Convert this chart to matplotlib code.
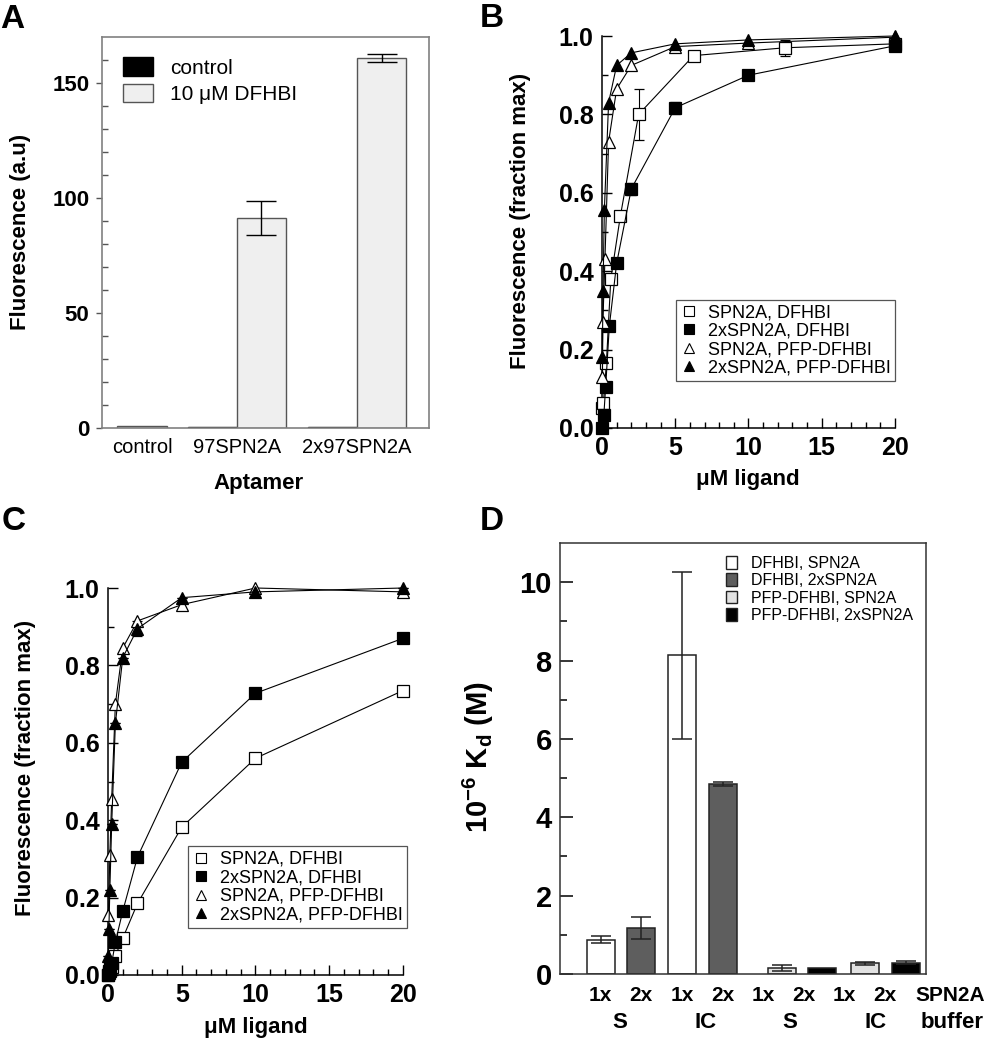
import matplotlib
matplotlib.use("Agg")
import matplotlib.pyplot as plt
from matplotlib.lines import Line2D
from matplotlib.patches import Patch

plt.rcParams['font.family'] = ['Liberation Sans', 'DejaVu Sans']
plt.rcParams['mathtext.fontset'] = 'custom'
plt.rcParams['mathtext.bf'] = 'Liberation Sans:bold'
plt.rcParams['mathtext.rm'] = 'Liberation Sans:bold'

# ---- panel A data ----
a_categories = ['control', '97SPN2A', '2x97SPN2A']
a_control = [0.0, 0.3, 0.3]
a_dfhbi = [1.0, 91.3, 161.0]
a_dfhbi_err = [0.0, 7.5, 1.7]

# ---- panel B data (x in uM, y fraction max) ----
b_x_spn = [0.0, 0.1, 0.3, 0.6, 1.25, 2.5, 6.25, 12.5, 20]
b_y_spn = [0.05, 0.065, 0.165, 0.38, 0.54, 0.80, 0.95, 0.97, 0.98]
b_e_spn = [0, 0, 0, 0, 0, 0.065, 0, 0.02, 0]
b_x_2x = [0, 0.125, 0.25, 0.5, 1, 2, 5, 10, 20]
b_y_2x = [0.0, 0.033, 0.105, 0.26, 0.42, 0.61, 0.817, 0.90, 0.975]
b_e_2x = [0, 0, 0, 0, 0, 0.015, 0.015, 0, 0]
b_x_pfp = [0.03, 0.06, 0.2, 0.45, 1, 2, 5, 10, 20]
b_y_pfp = [0.13, 0.27, 0.43, 0.73, 0.865, 0.925, 0.973, 0.982, 0.997]
b_x_2xpfp = [0.02, 0.07, 0.16, 0.45, 1, 2, 5, 10, 20]
b_y_2xpfp = [0.18, 0.35, 0.555, 0.83, 0.925, 0.957, 0.98, 0.99, 1.0]

# ---- panel C data ----
c_x = [0, 0.06, 0.125, 0.25, 0.5, 1, 2, 5, 10, 20]
c_y_spn = [0.0, 0.005, 0.01, 0.02, 0.05, 0.095, 0.185, 0.382, 0.56, 0.735]
c_y_2x = [0.0, 0.01, 0.02, 0.03, 0.085, 0.165, 0.305, 0.55, 0.728, 0.87]
c_x_pfp = [0.03, 0.125, 0.25, 0.5, 1, 2, 5, 10, 20]
c_y_pfp = [0.155, 0.31, 0.455, 0.70, 0.845, 0.915, 0.957, 1.0, 0.99]
c_x_2xpfp = [0.03, 0.06, 0.125, 0.25, 0.5, 1, 2, 5, 10, 20]
c_y_2xpfp = [0.05, 0.12, 0.22, 0.39, 0.65, 0.82, 0.895, 0.975, 0.99, 1.0]
c_e_2xpfp = [0, 0, 0, 0, 0, 0, 0.02, 0, 0, 0]

# ---- panel D data ----
d_vals = [0.88, 1.17, 8.13, 4.85, 0.15, 0.15, 0.27, 0.29]
d_err = [0.09, 0.285, 2.13, 0.06, 0.07, 0.0, 0.03, 0.04]
d_colors = ['white', '#5e5e5e', 'white', '#5e5e5e', '#e2e2e2', 'black', '#e2e2e2', 'black']
d_ticklabels = ['1x', '2x', '1x', '2x', '1x', '2x', '1x', '2x']
d_groups = ['S', 'IC', 'S', 'IC']
d_legend = ['DFHBI, SPN2A', 'DFHBI, 2xSPN2A', 'PFP-DFHBI, SPN2A', 'PFP-DFHBI, 2xSPN2A']
d_legend_colors = ['white', '#5e5e5e', '#e2e2e2', 'black']

series_labels = ['SPN2A, DFHBI', '2xSPN2A, DFHBI', 'SPN2A, PFP-DFHBI', '2xSPN2A, PFP-DFHBI']

W, H = 987, 1050
fig = plt.figure(figsize=(W / 100, H / 100), dpi=100)


def add_ax(l, t, r, b):
    return fig.add_axes([l / W, 1 - b / H, (r - l) / W, (b - t) / H])


def ftext(x, y, s, **kw):
    fig.text(x / W, 1 - y / H, s, **kw)


# ================= A =================
ax = add_ax(102, 37, 429, 428)
cat_pos = [0.0, 0.79, 1.79]
w = 0.41
for i, p in enumerate(cat_pos):
    if i == 0:
        ax.bar(p, a_dfhbi[i], w, color='#efefef', edgecolor='#555555', lw=1)
    else:
        ax.bar(p - w, a_control[i], w, align='edge', color='black', edgecolor='black', lw=1)
        ax.bar(p, a_dfhbi[i], w, align='edge', color='#efefef', edgecolor='#555555', lw=1)
        ax.errorbar(p + w / 2, a_dfhbi[i], yerr=a_dfhbi_err[i], color='black',
                    capsize=11, elinewidth=1, capthick=1)
ax.set_xlim(-0.333, 2.39)
ax.set_ylim(0, 170)
ax.set_xticks(cat_pos)
ax.set_xticklabels(a_categories, fontsize=14.5)
ax.tick_params(axis='x', length=0, pad=7)
ax.set_yticks([0, 50, 100, 150])
ax.set_yticks(range(0, 170, 10), minor=True)
ax.tick_params(axis='y', which='major', direction='out', length=4, width=1, pad=5,
               labelsize=16, color='#555555')
ax.tick_params(axis='y', which='minor', direction='in', length=4, width=1, color='#555555')
for lab in ax.get_yticklabels():
    lab.set_fontweight('bold')
for s in ax.spines.values():
    s.set_color('#808080')
    s.set_linewidth(1.2)
ax.legend(handles=[Patch(facecolor='black', edgecolor='black'),
                   Patch(facecolor='#efefef', edgecolor='#555555')],
          labels=['control', '10 \u03bcM DFHBI'], loc='upper left', frameon=False,
          fontsize=15, handlelength=1.45, handleheight=1.0, handletextpad=0.8,
          labelspacing=0.3, borderaxespad=0, bbox_to_anchor=(0.039, 0.97))
ftext(21, 232, 'Fluorescence (a.u)', rotation=90, ha='center', va='center',
      fontsize=16, fontweight='bold')
ftext(259, 484, 'Aptamer', ha='center', va='center', fontsize=16, fontweight='bold')


def curve_axes(ax, data, legend_anchor):
    styles = [('s', 'white'), ('s', 'black'), ('^', 'white'), ('^', 'black')]
    for (x, y, e), (m, fc) in zip(data, styles):
        ax.errorbar(x, y, yerr=e if e is not None else None, color='black', lw=0.8,
                    marker=m, markersize=9 if m == 's' else 8.5, markerfacecolor=fc,
                    markeredgecolor='black', markeredgewidth=0.9, capsize=3.5,
                    elinewidth=0.8, clip_on=False, zorder=3)
    ax.set_xlim(0, 20)
    ax.set_ylim(0, 1.0)
    ax.set_xticks([0, 5, 10, 15, 20])
    ax.set_xticks(range(0, 21), minor=True)
    ax.set_yticks([0, 0.2, 0.4, 0.6, 0.8, 1.0])
    ax.set_yticklabels(['0.0', '0.2', '0.4', '0.6', '0.8', '1.0'])
    ax.set_yticks([0.1, 0.3, 0.5, 0.7, 0.9], minor=True)
    ax.tick_params(which='major', direction='in', length=7, width=1, labelsize=18, pad=6)
    ax.tick_params(which='minor', direction='in', length=4, width=1)
    for lab in ax.get_xticklabels() + ax.get_yticklabels():
        lab.set_fontweight('bold')
    ax.spines['top'].set_visible(False)
    ax.spines['right'].set_visible(False)
    for s in ('left', 'bottom'):
        ax.spines[s].set_linewidth(1.1)
    handles = [Line2D([], [], ls='none', marker=m, markersize=7, markerfacecolor=fc,
                      markeredgecolor='black', markeredgewidth=0.8) for m, fc in styles]
    leg = ax.legend(handles, series_labels, loc='lower left', bbox_to_anchor=legend_anchor,
                    borderaxespad=0, fontsize=13, handlelength=0.9, handletextpad=0.6,
                    labelspacing=0.08, borderpad=0.25, fancybox=False, framealpha=1)
    leg.get_frame().set_edgecolor('#555555')
    leg.get_frame().set_linewidth(0.9)


# ================= B =================
ax = add_ax(602, 36, 895, 428)
curve_axes(ax, [(b_x_spn, b_y_spn, b_e_spn), (b_x_2x, b_y_2x, b_e_2x),
                (b_x_pfp, b_y_pfp, None), (b_x_2xpfp, b_y_2xpfp, None)], (0.253, 0.12))
ftext(521, 221, 'Fluorescence (fraction max)', rotation=90, ha='center', va='center',
      fontsize=16, fontweight='bold')
ftext(748, 480, '\u03bcM ligand', ha='center', va='center', fontsize=16, fontweight='bold')

# ================= C =================
ax = add_ax(108, 588, 403, 975)
curve_axes(ax, [(c_x, c_y_spn, None), (c_x, c_y_2x, None),
                (c_x_pfp, c_y_pfp, None), (c_x_2xpfp, c_y_2xpfp, c_e_2xpfp)], (0.271, 0.122))
ftext(26, 768, 'Fluorescence (fraction max)', rotation=90, ha='center', va='center',
      fontsize=16, fontweight='bold')
ftext(256, 1028, '\u03bcM ligand', ha='center', va='center', fontsize=16, fontweight='bold')

# ================= D =================
ax = add_ax(560, 543, 926, 974)
d_pos = [0, 1, 2, 3, 4.45, 5.45, 6.5, 7.5]
for p, v, e, c in zip(d_pos, d_vals, d_err, d_colors):
    ax.bar(p, v, 0.69, color=c, edgecolor='#222222', lw=1.1)
    if e > 0:
        ax.errorbar(p, v, yerr=e, color='#222222', capsize=7, elinewidth=1.1, capthick=1.1)
ax.set_xlim(-1.0, 8.0)
ax.set_ylim(0, 11)
ax.set_xticks([])
ax.set_yticks([0, 2, 4, 6, 8, 10])
ax.set_yticks([1, 3, 5, 7, 9], minor=True)
ax.tick_params(axis='y', which='major', direction='in', length=9, width=1.1, labelsize=21, pad=6)
ax.tick_params(axis='y', which='minor', direction='in', length=5, width=1.1)
for lab in ax.get_yticklabels():
    lab.set_fontweight('bold')
for s in ax.spines.values():
    s.set_linewidth(1.1)
    s.set_color('#333333')
for i, t in enumerate(d_ticklabels):
    ax.text(i, -0.55, t, ha='center', va='center', fontsize=15, fontweight='bold')
for p, g in zip([0.48, 2.58, 4.66, 6.76], d_groups):
    ax.text(p, -1.25, g, ha='center', va='center', fontsize=16, fontweight='bold')
ax.text(8.6, -0.55, 'SPN2A', ha='center', va='center', fontsize=15, fontweight='bold', clip_on=False)
ax.text(8.65, -1.25, 'buffer', ha='center', va='center', fontsize=16, fontweight='bold', clip_on=False)
ax.legend(handles=[Patch(facecolor=c, edgecolor='#222222') for c in d_legend_colors],
          labels=d_legend, loc='upper right', frameon=False, fontsize=11.5,
          handlelength=0.65, handleheight=0.85, handletextpad=0.9, labelspacing=0.15,
          borderaxespad=0.4)
ftext(478, 757, r'10$^{\mathbf{-6}}$ K$_{\mathbf{d}}$ (M)', rotation=90, ha='center', va='center',
      fontsize=21, fontweight='bold')

# panel letters
for x, y, s in [(0, 28, 'A'), (480, 27, 'B'), (2, 530, 'C'), (480, 530, 'D')]:
    ftext(x, y, s, ha='left', va='baseline', fontsize=24, fontweight='bold')

fig.savefig('out.png', dpi=100)
